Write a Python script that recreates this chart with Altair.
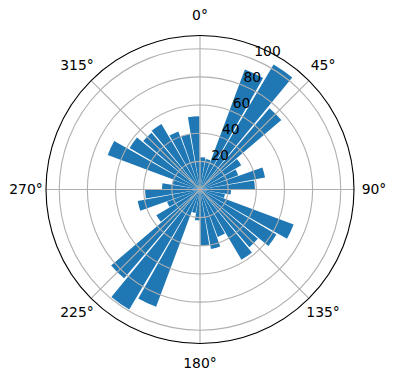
import math
import altair as alt
import pandas as pd

# ---- data ----
bin_centers = [5, 15, 25, 35, 45, 55, 65, 75, 85,
               95, 105, 115, 125, 135, 145, 155, 165, 175,
               185, 195, 205, 215, 225, 235, 245, 255, 265,
               275, 285, 295, 305, 315, 325, 335, 345, 355]
counts = [23, 22, 91, 103, 76, 34, 29, 47, 39,
          22, 18, 71, 63, 54, 58, 36, 43, 40,
          22, 17, 89, 99, 83, 36, 25, 45, 39,
          27, 20, 70, 58, 53, 54, 44, 40, 52]
bar_width_deg = 9.0

ring_values = [20, 40, 60, 80, 100]
ring_labels = ["20", "40", "60", "80", "100"]
angle_ticks = [0, 45, 90, 135, 180, 225, 270, 315]
angle_labels = ["0°", "45°", "90°", "135°", "180°", "225°", "270°", "315°"]
r_max = 109.4
radial_label_angle = 22.5

# ---- tables ----
bars_df = pd.DataFrame({"center": bin_centers, "count": counts})
bars_df["start"] = bars_df["center"] - bar_width_deg / 2
bars_df["end"] = bars_df["center"] + bar_width_deg / 2

rings_df = pd.DataFrame({"r": ring_values, "t0": 0, "t1": 360})
outer_df = pd.DataFrame({"r": [r_max], "t0": [0], "t1": [360]})
spokes_df = pd.DataFrame({"angle": angle_ticks, "r": r_max})
theta_lab_df = pd.DataFrame({"angle": angle_ticks, "label": angle_labels})
r_lab_df = pd.DataFrame({"r": ring_values, "label": ring_labels,
                         "angle": radial_label_angle})

R_PX = 154
theta_scale = alt.Scale(domain=[0, 360], range=[0, 2 * math.pi])
r_scale = alt.Scale(type="linear", domain=[0, r_max], range=[0, R_PX],
                    zero=True, nice=False)

FONT = "DejaVu Sans"
GRID = "#b0b0b0"
LW = 1.1

bars = alt.Chart(bars_df).mark_arc(color="#1f77b4").encode(
    theta=alt.Theta("start:Q", scale=theta_scale, stack=None),
    theta2="end:Q",
    radius=alt.Radius("count:Q", scale=r_scale),
)

rings = alt.Chart(rings_df).mark_arc(
    fillOpacity=0, stroke=GRID, strokeWidth=LW
).encode(
    theta=alt.Theta("t0:Q", scale=theta_scale, stack=None),
    theta2="t1:Q",
    radius=alt.Radius("r:Q", scale=r_scale),
)

spokes = alt.Chart(spokes_df).mark_arc(
    fillOpacity=0, stroke=GRID, strokeWidth=LW
).encode(
    theta=alt.Theta("angle:Q", scale=theta_scale, stack=None),
    theta2="angle:Q",
    radius=alt.Radius("r:Q", scale=r_scale),
)

outer = alt.Chart(outer_df).mark_arc(
    fillOpacity=0, stroke="black", strokeWidth=LW
).encode(
    theta=alt.Theta("t0:Q", scale=theta_scale, stack=None),
    theta2="t1:Q",
    radius=alt.Radius("r:Q", scale=r_scale),
)

theta_labels = alt.Chart(theta_lab_df).mark_text(
    font=FONT, fontSize=13.9, color="black", radius=174,
    align="center", baseline="middle"
).encode(
    theta=alt.Theta("angle:Q", scale=theta_scale, stack=None),
    text="label:N",
)

r_labels = alt.Chart(r_lab_df).mark_text(
    font=FONT, fontSize=13.9, color="black",
    align="left", baseline="middle", dx=0.4, dy=-7.6
).encode(
    theta=alt.Theta("angle:Q", scale=theta_scale, stack=None),
    radius=alt.Radius("r:Q", scale=r_scale),
    text="label:N",
)

chart = alt.layer(bars, rings, spokes, outer, theta_labels, r_labels).properties(
    width=2 * R_PX,
    height=2 * R_PX,
    autosize=alt.AutoSizeParams(type="none"),
    padding={"left": 46, "top": 35.5, "right": 42, "bottom": 36.5},
    background="white",
).configure_view(stroke=None)

chart.save("out.html", embed_options={"renderer": "svg", "actions": False})
